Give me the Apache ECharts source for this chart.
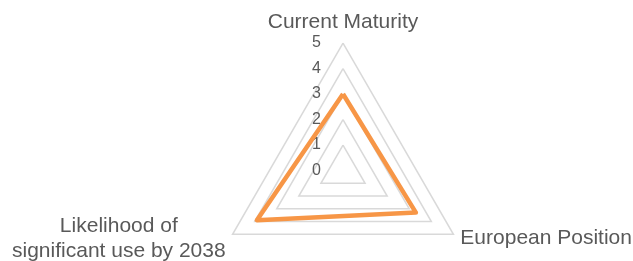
<!DOCTYPE html>
<html>
<head>
<meta charset="utf-8">
<script src="https://cdn.jsdelivr.net/npm/echarts@6/dist/echarts.min.js"></script>
<style>
  html, body { margin: 0; padding: 0; background: #fff; }
  #chart { width: 633px; height: 261px; }
</style>
</head>
<body>
<div id="chart"></div>
<script>
// indicators go counter-clockwise from the top
var indicatorNames = ["Current Maturity", "Likelihood of\nsignificant use by 2038", "European Position"];
var scoreValues = [3, 3.9, 3.3];
var scaleMax = 5;

var myChart = echarts.init(document.getElementById("chart"));

var indicators = indicatorNames.map(function (n, i) {
  var ind = { name: n, min: 0, max: scaleMax };
  if (i === 0) {
    // only the top axis carries the 0..5 labels
    ind.axisLabel = {
      show: true,
      showMinLabel: true,
      showMaxLabel: true,
      margin: 22,
      color: "#595959",
      fontSize: 16,
      fontFamily: "Liberation Sans, Arial, sans-serif",
    };
  }
  return ind;
});

var option = {
  backgroundColor: "#ffffff",
  animation: false,
  radar: {
    center: [343, 170.5],
    radius: 127.5,
    startAngle: 90,
    shape: "polygon",
    splitNumber: 5,
    nameGap: 8,
    indicator: indicators,
    axisName: {
      color: "#595959",
      fontSize: 21,
      fontFamily: "Liberation Sans, Arial, sans-serif",
      formatter: function (name) {
        return "{t|" + name + "}";
      },
      rich: {
        t: {
          align: "center",
          color: "#595959",
          fontSize: 21,
          lineHeight: 25,
          fontFamily: "Liberation Sans, Arial, sans-serif",
        },
      },
    },
    axisLine: { show: false },
    axisTick: { show: false },
    axisLabel: { show: false },
    splitArea: { show: false },
    splitLine: {
      lineStyle: { color: "#d9d9d9", width: 1.5 },
    },
  },
  series: [
    {
      name: "Score",
      type: "radar",
      symbol: "none",
      lineStyle: { color: "#F79646", width: 4.5 },
      data: [{ value: scoreValues }],
    },
  ],
};
myChart.setOption(option);
</script>
</body>
</html>
